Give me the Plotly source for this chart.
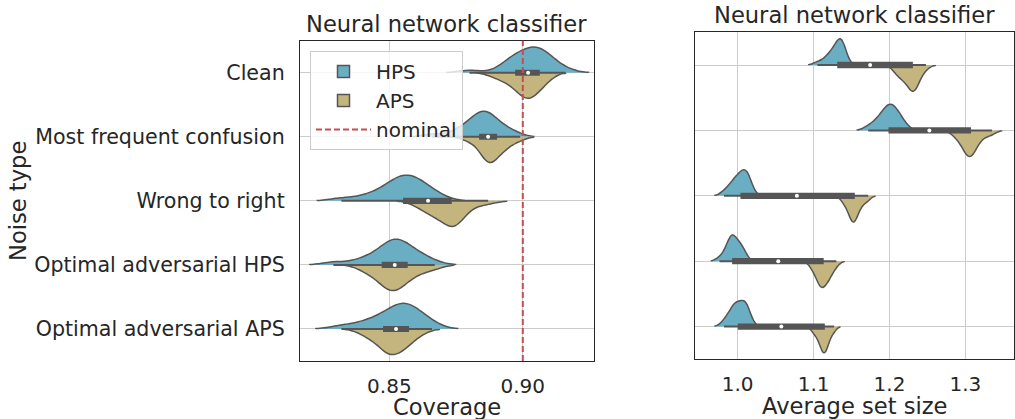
import numpy as np
import plotly.graph_objects as go

categories = ["Clean", "Most frequent confusion", "Wrong to right",
              "Optimal adversarial HPS", "Optimal adversarial APS"]

# Coverage samples (left panel)
cov_hps = {
    "Clean": [0.880, 0.893, 0.895, 0.896, 0.897, 0.898, 0.900, 0.901, 0.902, 0.903, 0.904,
              0.905, 0.905, 0.906, 0.907, 0.908, 0.909, 0.910, 0.912, 0.916],
    "Most frequent confusion": [0.866, 0.874, 0.877, 0.879, 0.880, 0.882, 0.883, 0.884, 0.884,
                                0.885, 0.886, 0.886, 0.887, 0.888, 0.889, 0.890, 0.892, 0.894, 0.897],
    "Wrong to right": [0.832, 0.840, 0.844, 0.847, 0.849, 0.851, 0.852, 0.853, 0.854, 0.855,
                       0.856, 0.857, 0.858, 0.859, 0.860, 0.861, 0.862, 0.864, 0.866, 0.869],
    "Optimal adversarial HPS": [0.829, 0.838, 0.842, 0.845, 0.847, 0.849, 0.850, 0.851, 0.852,
                                0.852, 0.853, 0.854, 0.855, 0.857, 0.858, 0.860, 0.862, 0.866],
    "Optimal adversarial APS": [0.832, 0.839, 0.843, 0.846, 0.848, 0.850, 0.852, 0.853, 0.854,
                                0.855, 0.856, 0.857, 0.858, 0.859, 0.861, 0.863, 0.866],
}
cov_aps = {
    "Clean": [0.889, 0.892, 0.894, 0.896, 0.897, 0.898, 0.899, 0.900, 0.901, 0.901, 0.902,
              0.902, 0.903, 0.903, 0.904, 0.905, 0.906, 0.907, 0.908, 0.910],
    "Most frequent confusion": [0.879, 0.882, 0.884, 0.885, 0.886, 0.886, 0.887, 0.887, 0.888,
                                0.888, 0.889, 0.889, 0.890, 0.891, 0.892, 0.893, 0.894, 0.896, 0.899],
    "Wrong to right": [0.860, 0.863, 0.865, 0.866, 0.867, 0.868, 0.870, 0.871, 0.872, 0.873,
                       0.873, 0.874, 0.874, 0.875, 0.875, 0.876, 0.877, 0.879, 0.882, 0.887],
    "Optimal adversarial HPS": [0.840, 0.843, 0.845, 0.847, 0.848, 0.849, 0.850, 0.851, 0.851,
                                0.852, 0.853, 0.854, 0.855, 0.856, 0.858, 0.860, 0.863, 0.867],
    "Optimal adversarial APS": [0.840, 0.843, 0.845, 0.847, 0.848, 0.849, 0.850, 0.850, 0.851,
                                0.852, 0.853, 0.854, 0.855, 0.856, 0.857, 0.859, 0.862],
}

# Average set size samples (right panel)
size_hps = {
    "Clean": [1.105, 1.114, 1.118, 1.121, 1.124, 1.126, 1.128, 1.130, 1.132, 1.133, 1.134,
              1.135, 1.136, 1.137, 1.138, 1.139, 1.140, 1.142],
    "Most frequent confusion": [1.172, 1.180, 1.185, 1.189, 1.192, 1.194, 1.196, 1.198, 1.200,
                                1.202, 1.204, 1.205, 1.207, 1.209, 1.212, 1.216, 1.220],
    "Wrong to right": [0.982, 0.988, 0.992, 0.995, 0.997, 0.999, 1.001, 1.003, 1.005, 1.007,
                       1.009, 1.010, 1.011, 1.012, 1.013, 1.015, 1.018],
    "Optimal adversarial HPS": [0.976, 0.983, 0.986, 0.988, 0.990, 0.991, 0.992, 0.993, 0.994,
                                0.995, 0.997, 0.999, 1.001, 1.003, 1.005, 1.007, 1.010],
    "Optimal adversarial APS": [0.982, 0.987, 0.991, 0.994, 0.996, 0.997, 0.998, 1.000, 1.003,
                                1.006, 1.008, 1.009, 1.010, 1.011, 1.013, 1.016],
}
size_aps = {
    "Clean": [1.207, 1.211, 1.214, 1.217, 1.220, 1.222, 1.225, 1.227, 1.229, 1.230, 1.231,
              1.232, 1.233, 1.234, 1.236, 1.238, 1.241, 1.248],
    "Most frequent confusion": [1.285, 1.291, 1.295, 1.298, 1.300, 1.302, 1.304, 1.305,
                                1.306, 1.307, 1.309, 1.311, 1.313, 1.316, 1.320, 1.327, 1.335],
    "Wrong to right": [1.138, 1.142, 1.145, 1.147, 1.149, 1.150, 1.151, 1.152, 1.153, 1.154,
                       1.155, 1.156, 1.158, 1.160, 1.163, 1.167, 1.172],
    "Optimal adversarial HPS": [1.097, 1.101, 1.104, 1.106, 1.108, 1.109, 1.110, 1.111, 1.112,
                                1.113, 1.115, 1.117, 1.119, 1.120, 1.122, 1.125, 1.130],
    "Optimal adversarial APS": [1.099, 1.103, 1.106, 1.108, 1.110, 1.111, 1.112, 1.113, 1.114,
                                1.115, 1.116, 1.117, 1.118, 1.120, 1.123, 1.127],
}

nominal = 0.90
cov_ticks = [0.85, 0.90]
size_ticks = [1.0, 1.1, 1.2, 1.3]

HPS_COLOR = "#6aaec4"
APS_COLOR = "#c4b47d"
EDGE = "#555555"
FONT = "DejaVu Sans"
TXT = "#262626"

fig = go.Figure()

panels = [("x", "y", cov_hps, cov_aps, "L"), ("x2", "y2", size_hps, size_aps, "R")]
first = True
for xa, ya, hps, aps, tag in panels:
    for cat in categories:
        for name, data, color, side in [("HPS", hps[cat], HPS_COLOR, "negative"),
                                        ("APS", aps[cat], APS_COLOR, "positive")]:
            fig.add_trace(go.Violin(
                x=data, y=[cat] * len(data), orientation="h", side=side,
                name=name, legendgroup=name, showlegend=first,
                legendrank=1 if name == "HPS" else 2,
                fillcolor=color, line=dict(color=EDGE, width=1.5), opacity=1,
                width=0.8, scalegroup=f"{tag}-{cat}", scalemode="width",
                spanmode="soft", points=False, box_visible=False,
                meanline_visible=False, hoverinfo="skip",
                xaxis=xa, yaxis=ya))
        combined = list(hps[cat]) + list(aps[cat])
        fig.add_trace(go.Box(
            x=combined, y=[cat] * len(combined), orientation="h",
            width=0.065, fillcolor=EDGE, line=dict(color=EDGE, width=2),
            whiskerwidth=0, boxpoints=False, showlegend=False, hoverinfo="skip",
            xaxis=xa, yaxis=ya))
        fig.add_trace(go.Scatter(
            x=[float(np.median(combined))], y=[cat], mode="markers",
            marker=dict(color="white", size=4), showlegend=False, hoverinfo="skip",
            xaxis=xa, yaxis=ya))
        first = False

W, H = 1015, 419
def px_x(p): return p / W
def px_y(p): return 1 - p / H

axis_common = dict(showline=True, mirror=True, linecolor=TXT, linewidth=1.3,
                   showgrid=True, gridcolor="#cccccc", gridwidth=1, zeroline=False,
                   automargin=False)

fig.update_layout(
    width=W, height=H, margin=dict(l=0, r=0, t=0, b=0, autoexpand=False),
    paper_bgcolor="white", plot_bgcolor="white",
    violinmode="overlay", boxmode="overlay",
    font=dict(family=FONT, color=TXT),
    xaxis=dict(domain=[px_x(300), px_x(593.5)], range=[0.8165, 0.9265],
               tickvals=cov_ticks, ticktext=[f"{v:.2f}" for v in cov_ticks],
               ticks="outside", ticklen=7, tickcolor="rgba(0,0,0,0)", anchor="y",
               tickfont=dict(family=FONT, size=20, color=TXT), **axis_common),
    yaxis=dict(domain=[px_y(361), px_y(40.7)], type="category",
               categoryorder="array", categoryarray=categories, range=[4.5, -0.5],
               ticks="outside", ticklen=10, tickcolor="rgba(0,0,0,0)", anchor="x",
               tickfont=dict(family=FONT, size=20.6, color=TXT), **axis_common),
    xaxis2=dict(domain=[px_x(695), px_x(1014)], range=[0.9438, 1.364],
                tickvals=size_ticks, ticktext=[f"{v:.1f}" for v in size_ticks],
                ticks="outside", ticklen=7, tickcolor="rgba(0,0,0,0)", anchor="y2",
                tickfont=dict(family=FONT, size=20, color=TXT), **axis_common),
    yaxis2=dict(domain=[px_y(359.3), px_y(32.3)], type="category",
                categoryorder="array", categoryarray=categories, range=[4.5, -0.5],
                showticklabels=False, ticks="", anchor="x2", **axis_common),
    legend=dict(x=px_x(310), y=px_y(51), xanchor="left", yanchor="top",
                bgcolor="rgba(255,255,255,0.8)", bordercolor="#cccccc", borderwidth=1,
                font=dict(family=FONT, size=20, color=TXT), tracegroupgap=0,
                itemwidth=55),
    shapes=[dict(type="line", xref="x", yref="y domain", x0=nominal, x1=nominal,
                 y0=0, y1=1, line=dict(color="#c44e52", width=2, dash="6px,3px"),
                 layer="above", showlegend=True, name="nominal", legendrank=3)],
    annotations=[
        dict(text="Neural network classifier", xref="paper", yref="paper",
             x=px_x(446.5), y=px_y(40.7), xanchor="center", yanchor="bottom", yshift=2,
             showarrow=False, font=dict(family=FONT, size=22.6, color=TXT)),
        dict(text="Neural network classifier", xref="paper", yref="paper",
             x=px_x(854.5), y=px_y(32.3), xanchor="center", yanchor="bottom", yshift=2,
             showarrow=False, font=dict(family=FONT, size=22.6, color=TXT)),
        dict(text="Coverage", xref="paper", yref="paper",
             x=px_x(446.5), y=px_y(407), xanchor="center", yanchor="middle",
             showarrow=False, font=dict(family=FONT, size=22.6, color=TXT)),
        dict(text="Average set size", xref="paper", yref="paper",
             x=px_x(854.5), y=px_y(406), xanchor="center", yanchor="middle",
             showarrow=False, font=dict(family=FONT, size=22.6, color=TXT)),
        dict(text="Noise type", xref="paper", yref="paper", textangle=-90,
             x=px_x(18), y=px_y(201), xanchor="center", yanchor="middle",
             showarrow=False, font=dict(family=FONT, size=22.6, color=TXT)),
    ],
)

fig.write_html("out.html", config={"displayModeBar": False},
               post_script="document.body.style.margin='0px';")
